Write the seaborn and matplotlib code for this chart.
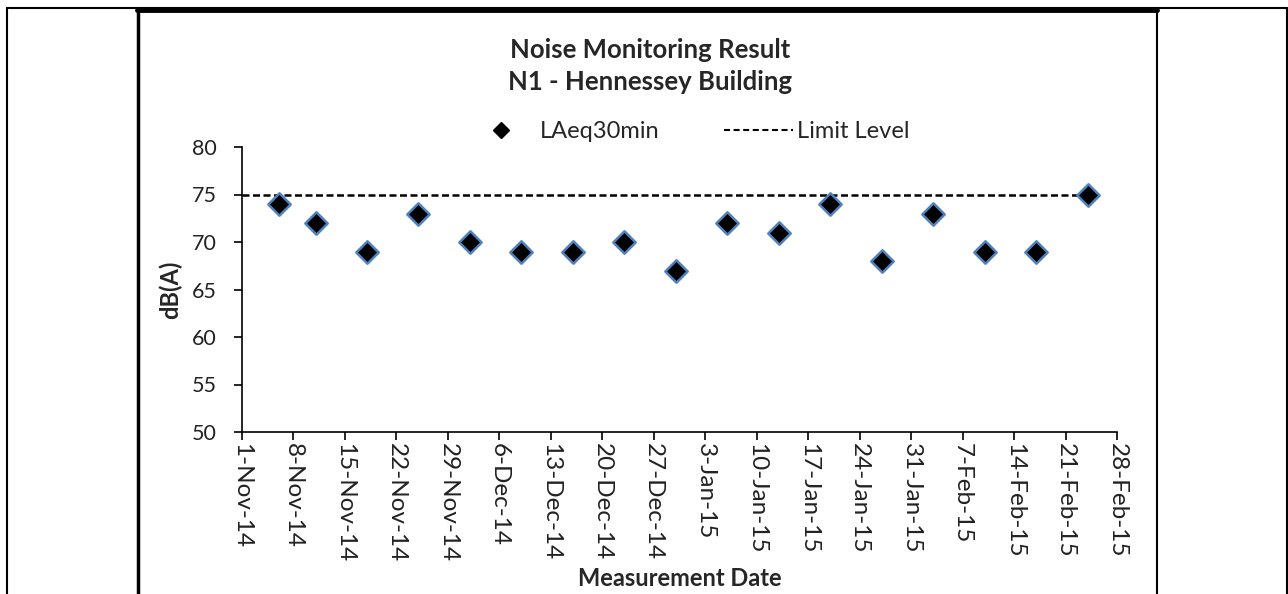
import matplotlib
matplotlib.use("Agg")
import matplotlib.pyplot as plt
from matplotlib.lines import Line2D
import pandas as pd
import seaborn as sns

# measurement dates and LAeq30min readings, dB(A)
dates = ["2014-11-06", "2014-11-11", "2014-11-18", "2014-11-25", "2014-12-02",
         "2014-12-09", "2014-12-16", "2014-12-23", "2014-12-30", "2015-01-06",
         "2015-01-13", "2015-01-20", "2015-01-27", "2015-02-03", "2015-02-10",
         "2015-02-17", "2015-02-24"]
laeq = [74, 72, 69, 73, 70, 69, 69, 70, 67, 72, 71, 74, 68, 73, 69, 69, 75]

# limit level series
limit_dates = ["2014-11-01", "2015-02-24"]
limit_level = [75, 75]

x_start, x_end = "2014-11-01", "2015-02-28"
y_ticks = [50, 55, 60, 65, 70, 75, 80]

sns.set_style("white")
plt.rcParams['font.family'] = ['Lato', 'DejaVu Sans']

df = pd.DataFrame({"date": pd.to_datetime(dates), "LAeq30min": laeq})
lim = pd.DataFrame({"date": pd.to_datetime(limit_dates), "limit": limit_level})

W, H = 1288, 594
fig = plt.figure(figsize=(W / 100, H / 100), dpi=100)
ax = fig.add_axes([242 / W, 1 - 432 / H, (1117 - 242) / W, (432 - 147) / H])

sns.lineplot(data=lim, x="date", y="limit", ax=ax, color="black", lw=1.8,
             linestyle=(0, (2.8, 1.4)), legend=False)
sns.scatterplot(data=df, x="date", y="LAeq30min", ax=ax, marker="D", s=130,
                color="black", edgecolor="#4F81BD", linewidth=1.8, legend=False, zorder=3)

ax.set_xlim(pd.Timestamp(x_start), pd.Timestamp(x_end))
ax.set_ylim(50, 80)
ax.set_yticks(y_ticks)
ticks = pd.date_range(x_start, x_end, freq="7D")
ax.set_xticks(ticks)
ax.set_xticklabels([f"{d.day}-{d.strftime('%b')}-{d.strftime('%y')}" for d in ticks],
                   rotation=-90, va="top", ha="center")

sns.despine(ax=ax)
for s in ["left", "bottom"]:
    ax.spines[s].set_color("black")
    ax.spines[s].set_linewidth(1.2)
ax.tick_params(axis="both", direction="out", length=6, width=1.2, color="black",
               labelcolor="#222222", left=True, bottom=True)
ax.tick_params(axis="x", pad=2, labelsize=17.5)
ax.tick_params(axis="y", pad=12, labelsize=15.5)

ax.set_xlabel("Measurement Date", fontsize=17, fontweight="bold", va="center")
ax.set_ylabel("dB(A)", fontsize=17, fontweight="bold", va="center")
ax.xaxis.set_label_coords(0.5, (432 - 579) / 285)
ax.yaxis.set_label_coords((170 - 242) / 875, 0.5)

fig.text(650 / W, 1 - 57.5 / H, "Noise Monitoring Result", ha="center", va="baseline",
         fontsize=18.5, fontweight="bold")
fig.text(650 / W, 1 - 89.5 / H, "N1 - Hennessey Building", ha="center", va="baseline",
         fontsize=18.5, fontweight="bold")

handles = [Line2D([], [], marker="D", color="black", linestyle="none", markersize=8),
           Line2D([], [], color="black", linestyle=(0, (2.9, 1.7)), lw=1.5)]
fig.legend(handles, ["LAeq30min", "Limit Level"], loc="center",
           bbox_to_anchor=(688 / W, 1 - 132 / H), ncol=2, frameon=False,
           fontsize=17, handlelength=2.9, columnspacing=2.75, handletextpad=0.2,
           borderpad=0, borderaxespad=0)

# surrounding table frame
frame = [((7, 1287), (8, 8), 1.5), ((137, 1157), (10, 10), 3.5),
         ((7, 7), (8, 594), 1.5), ((138, 138), (10, 594), 2.5),
         ((1157, 1157), (10, 594), 1.5), ((1286.5, 1286.5), (8, 594), 1.5)]
for xs, ys, lw in frame:
    fig.add_artist(Line2D([x / W for x in xs], [1 - y / H for y in ys],
                          color="black", lw=lw))

fig.savefig("out.png", dpi=100)
